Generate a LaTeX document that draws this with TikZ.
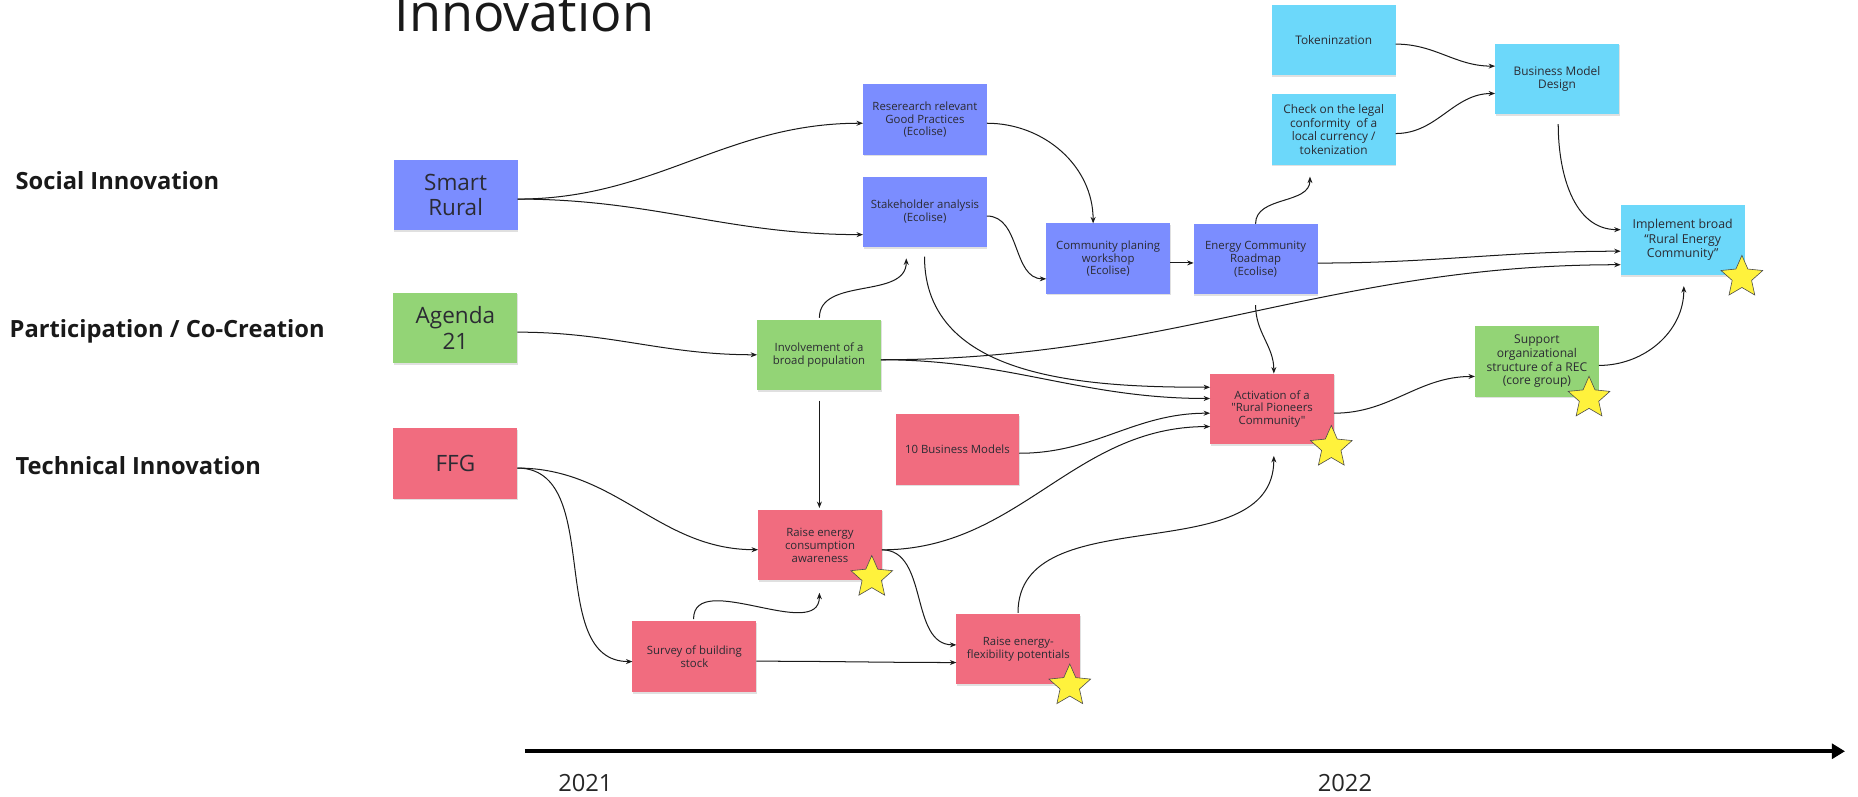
\documentclass[tikz,border=0pt]{standalone}
\usepackage{fontspec}
\setmainfont{Open Sans}[Ligatures=TeXOff]
\usetikzlibrary{arrows.meta,calc,shapes.geometric,shadows}
\definecolor{cblue}{HTML}{7B8DFF}
\definecolor{ccyan}{HTML}{6CD8FA}
\definecolor{cgreen}{HTML}{93D476}
\definecolor{cred}{HTML}{F16C7F}
\definecolor{cstar}{HTML}{FFF23C}
\definecolor{ctext}{HTML}{2B2B33}
\definecolor{cline}{HTML}{1A1A1A}
\tikzset{
  sticky/.style={rectangle, inner sep=2pt, outer sep=0pt, align=center, text=ctext,
    minimum width=104.5pt, minimum height=59.5pt,
    drop shadow={shadow xshift=0.5pt, shadow yshift=-1.3pt, opacity=0.12, fill=black},
    font=\fontsize{9.6}{10.8}\selectfont},
  bluebox/.style={sticky, fill=cblue},
  cyanbox/.style={sticky, fill=ccyan, font=\fontsize{10}{11.5}\selectfont},
  greenbox/.style={sticky, fill=cgreen},
  redbox/.style={sticky, fill=cred},
  bigtext/.style={font=\fontsize{19}{21.7}\selectfont},
  rowlabel/.style={anchor=west, inner sep=0pt, font=\fontsize{20}{24}\selectfont\bfseries, text=black!90},
  yearlabel/.style={inner sep=0pt, font=\fontsize{20}{24}\selectfont, text=black!85},
  starmark/.style={star, star points=5, star point ratio=2.15, minimum size=37pt, inner sep=0pt,
    fill=cstar, draw=black!70, line width=0.5pt},
  conn/.style={draw=cline, line width=0.85pt, -{Stealth[length=5.5pt,width=4.2pt]}},
}
\begin{document}
\begin{tikzpicture}[x=1pt,y=-1pt]
\useasboundingbox[fill=white] (0,0) rectangle (1568,672);

% title and row labels
\node[anchor=base west, inner sep=0pt, font=\fontsize{44}{50}\selectfont, text=black!90] (title) at (333,26.8) {Innovation};
\node[rowlabel] (lsoc) at (13,152) {Social Innovation};
\node[rowlabel] (lpar) at (8,280) {Participation / Co-Creation};
\node[rowlabel] (ltec) at (13,393) {Technical Innovation};

% sources
\node[bluebox, bigtext] (A) at (384.5,164.5) {Smart\\Rural};
\node[greenbox, bigtext] (B) at (384.3,276.8) {Agenda\\21};
\node[redbox, bigtext] (C) at (384.3,391.1) {FFG};

% blue
\node[bluebox] (D) at (780.6,101) {Reserearch relevant\\Good Practices\\(Ecolise)};
\node[bluebox] (E) at (780.6,178.8) {Stakeholder analysis\\(Ecolise)};
\node[bluebox] (F) at (935.2,218.3) {Community planing\\workshop\\(Ecolise)};
\node[bluebox] (G) at (1059.6,218.6) {Energy Community\\Roadmap\\(Ecolise)};

% cyan
\node[cyanbox] (H) at (1125.5,33.7) {Tokeninzation};
\node[cyanbox] (I) at (1125.5,109.3) {Check on the legal\\conformity\ \ of a\\local currency /\\tokenization};
\node[cyanbox] (J) at (1314,66.6) {Business Model\\Design};
\node[cyanbox, font=\fontsize{10.4}{12}\selectfont] (K) at (1420,202.4) {Implement broad\\“Rural Energy\\Community”};

% green
\node[greenbox] (L) at (691.2,299.4) {Involvement of a\\broad population};
\node[greenbox, font=\fontsize{10.2}{11.6}\selectfont] (O) at (1297,305) {Support\\organizational\\structure of a REC\\(core group)};

% red
\node[redbox] (M) at (808,379.5) {10 Business Models};
\node[redbox] (N) at (1073.5,345) {Activation of a\\"Rural Pioneers\\Community"};
\node[redbox] (P) at (692,460) {Raise energy\\consumption\\awareness};
\node[redbox] (Q) at (586,554.2) {Survey of building\\stock};
\node[redbox] (R) at (859.4,547.9) {Raise energy-\\flexibility potentials};

% stars
\node[starmark] (sP) at (735.7,487.3) {};
\node[starmark] (sR) at (902.8,578.8) {};
\node[starmark] (sN) at (1123.5,377.5) {};
\node[starmark] (sO) at (1341,336) {};
\node[starmark] (sK) at (1470,234) {};

% connectors
\draw[conn] ($(A.east)+(0,3.5)$) to[out=0,in=180] ($(D.west)+(0,3)$);
\draw[conn] ($(A.east)+(0,3.5)$) to[out=0,in=180] ($(E.west)+(0,19.2)$);
\draw[conn] ($(D.east)+(0,3)$) to[out=0,in=90] ($(F.north)+(-12.7,0)$);
\draw[conn] ($(E.east)+(0,3.5)$) to[out=0,in=180] ($(F.west)+(0,17)$);
\draw[conn] ($(F.east)+(0,3.6)$) -- ($(G.west)+(0,3.3)$);
\draw[conn] (G.north) to[out=90,in=-90] ($(I.south)+(-20,10)$);
\draw[conn] ($(H.east)+(0,3.5)$) to[out=0,in=180] ($(J.west)+(0,-10.8)$);
\draw[conn] ($(I.east)+(0,3.4)$) to[out=0,in=180] ($(J.west)+(0,12.3)$);
\draw[conn] ($(J.south)+(1,8.5)$) to[out=-90,in=180] ($(K.west)+(0,-8.6)$);
\draw[conn] ($(G.east)+(0,3.4)$) to[out=0,in=180] ($(K.west)+(0,9.6)$);
\draw[conn] ($(L.east)+(0,4.2)$) to[out=0,in=180] ($(K.west)+(0,21)$);
\draw[conn] ($(L.east)+(0,4.2)$) to[out=0,in=180] ($(N.west)+(0,-8.7)$);
\draw[conn] ($(E.south)+(-0.4,8)$) to[out=-90,in=180] ($(N.west)+(0,-18.2)$);
\draw[conn] ($(M.east)+(0,3)$) to[out=0,in=180] ($(N.west)+(0,3.7)$);
\draw[conn] ($(P.east)+(0,4)$) to[out=0,in=180] ($(N.west)+(0,15)$);
\draw[conn] ($(G.south)+(0,9.2)$) to[out=-90,in=90] ($(N.north)+(1.5,0)$);
\draw[conn] ($(R.north)+(-0.3,-1)$) to[out=90,in=-90] ($(N.south)+(1.5,10)$);
\draw[conn] ($(N.east)+(0,3.7)$) to[out=0,in=180] ($(O.west)+(0,12.7)$);
\draw[conn] ($(O.east)+(0,3.4)$) to[out=0,in=-90] ($(K.south)+(1,9.3)$);
\draw[conn] ($(B.east)+(0,3.5)$) to[out=0,in=180] (L.west);
\draw[conn] ($(L.north)+(0.3,-1.5)$) to[out=90,in=-90] ($(E.south)+(-15.8,9.5)$);
\draw[conn] ($(L.south)+(0.3,9)$) -- ($(P.north)+(-0.5,-1.5)$);
\draw[conn] ($(C.east)+(0,3.9)$) to[out=0,in=180] ($(P.west)+(0,3.9)$);
\draw[conn] ($(C.east)+(0,3.9)$) to[out=0,in=180] ($(Q.west)+(0,4.1)$);
\draw[conn] ($(Q.north)+(-0.7,-2)$) to[out=90,in=-90] ($(P.south)+(-0.5,10.5)$);
\draw[conn] ($(P.east)+(0,4)$) to[out=0,in=180] ($(R.west)+(0,-3.7)$);
\draw[conn] ($(Q.east)+(0,3.8)$) to[out=0,in=180] ($(R.west)+(0,11.2)$);

% timeline
\coordinate (t0) at (443,634);
\coordinate (t1) at (1557,634);
\draw[line width=3.4pt, draw=black, -{Triangle[length=11pt,width=12.5pt]}] (t0) -- (t1);
\node[yearlabel] (y1) at (494,661) {2021};
\node[yearlabel] (y2) at (1135,661) {2022};
\end{tikzpicture}
\end{document}
